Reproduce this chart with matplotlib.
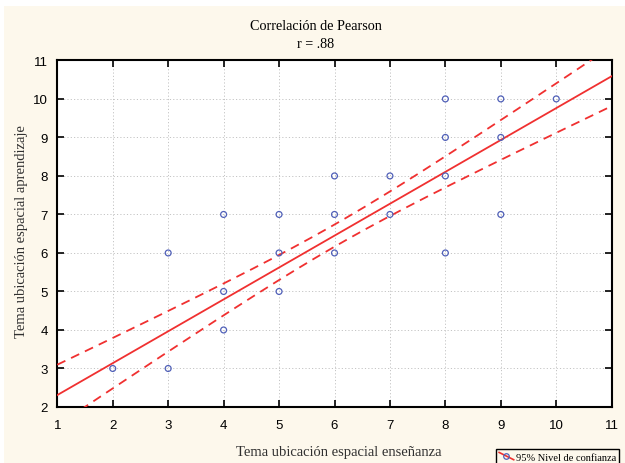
import numpy as np
import matplotlib
matplotlib.use("Agg")
import matplotlib.pyplot as plt
from matplotlib.lines import Line2D
from matplotlib.patches import Rectangle
from matplotlib.legend_handler import HandlerBase

# scores per student (x = enseñanza, y = aprendizaje); repeated pairs overlap on the plot
ensenanza = [2, 2,
             3, 3, 3,
             4, 4, 4, 4, 4,
             5, 5, 5, 5, 5, 5,
             6, 6, 6, 6, 6, 6, 6, 6, 6,
             7, 7, 7, 7, 7, 7, 7,
             8, 8, 8, 8, 8, 8,
             9, 9, 9, 9,
             10]
aprendizaje = [3, 3,
               3, 3, 6,
               4, 4, 4, 5, 7,
               5, 5, 5, 6, 6, 7,
               6, 6, 6, 6, 6, 6, 7, 7, 8,
               7, 7, 7, 7, 7, 8, 8,
               6, 8, 8, 8, 9, 10,
               7, 9, 9, 10,
               10]
titulo = "Correlación de Pearson"
subtitulo = "r = .88"
etiqueta_x = "Tema ubicación espacial enseñanza"
etiqueta_y = "Tema ubicación espacial aprendizaje"
etiqueta_ic = "95% Nivel de confianza"
T_CRIT = 2.020  # t(0.975, df=41)

RED = "#f03030"
BLUE = "#5060b8"
CREAM = "#fdf8ec"

x = np.array(ensenanza, dtype=float)
y = np.array(aprendizaje, dtype=float)
n = len(x)

# least squares fit and 95% confidence band for the mean
slope, intercept = np.polyfit(x, y, 1)
resid = y - (intercept + slope * x)
s = np.sqrt(np.sum(resid ** 2) / (n - 2))
sxx = np.sum((x - x.mean()) ** 2)
xs = np.linspace(0.5, 11.5, 200)
fit = intercept + slope * xs
half = T_CRIT * s * np.sqrt(1 / n + (xs - x.mean()) ** 2 / sxx)

# each distinct pair is drawn once
pares = np.unique(np.column_stack([x, y]), axis=0)

plt.rcParams["font.family"] = ["Liberation Serif", "DejaVu Serif"]

fig = plt.figure(figsize=(6.25, 4.64), dpi=100, facecolor="white")
fig.patches.append(Rectangle((4 / 625, 0), 1, 1 - 7 / 464, transform=fig.transFigure,
                             facecolor=CREAM, edgecolor="none", zorder=-10))
ax = fig.add_axes([57.3 / 625, 1 - 408 / 464, (611.7 - 57.3) / 625, (408 - 61.4) / 464])
ax.set_facecolor("white")

ax.plot(xs, fit, color=RED, lw=1.3, zorder=3)
ax.plot(xs, fit + half, color=RED, lw=1.3, ls=(0, (5, 3.5)), zorder=3)
ax.plot(xs, fit - half, color=RED, lw=1.3, ls=(0, (5, 3.5)), zorder=3)
ax.scatter(pares[:, 0], pares[:, 1], s=18, facecolors="none", edgecolors=BLUE,
           linewidths=0.9, zorder=4)

ax.set_xlim(1, 11)
ax.set_ylim(2, 11)
ax.set_xticks(range(1, 12))
ax.set_yticks(range(2, 12))
ax.grid(True, color="#c4c4c4", ls=(0, (1.2, 2.2)), lw=0.7)
ax.tick_params(direction="in", length=5, width=1.2, top=True, right=True,
               labelsize=9.5, colors="black")
ax.tick_params(axis="x", pad=9)
ax.tick_params(axis="y", pad=7)
for lab in ax.get_xticklabels() + ax.get_yticklabels():
    lab.set_fontfamily(["Liberation Sans", "DejaVu Sans"])
for sp in ax.spines.values():
    sp.set_linewidth(1.5)

fig.text(316 / 625, 1 - 27 / 464, titulo, ha="center", va="center", fontsize=10.2)
fig.text(316 / 625, 1 - 44 / 464, subtitulo, ha="center", va="center", fontsize=10.2)
fig.text(339 / 625, 1 - 453 / 464, etiqueta_x, ha="center", va="center", fontsize=10.5,
         color="#303030")
fig.text(22 / 625, 1 - 232 / 464, etiqueta_y, ha="center", va="center", fontsize=10.5,
         color="#303030", rotation=90)


class HandlerIC(HandlerBase):
    # marker with a red diagonal stroke through it
    def create_artists(self, legend, orig, xd, yd, w, h, fontsize, trans):
        ln = Line2D([xd, xd + w], [yd + h, yd], color=RED, lw=1.2, transform=trans)
        mk = Line2D([xd + w * 0.45], [yd + h * 0.55], marker="o", ms=4, mfc="none",
                    mec=BLUE, mew=0.9, ls="none", transform=trans)
        return [ln, mk]


handle = Line2D([], [], color=RED)
leg = fig.legend([handle], [etiqueta_ic], handler_map={Line2D: HandlerIC()},
                 loc="lower left", bbox_to_anchor=(496 / 625, -0.004), fontsize=7.5,
                 frameon=True, fancybox=False, framealpha=1, borderpad=0.3,
                 handlelength=1.4, handletextpad=0.2, borderaxespad=0)
leg.get_frame().set_edgecolor("black")
leg.get_frame().set_linewidth(1.0)
leg.get_frame().set_facecolor(CREAM)

fig.savefig("out.png", dpi=100, facecolor=fig.get_facecolor())
